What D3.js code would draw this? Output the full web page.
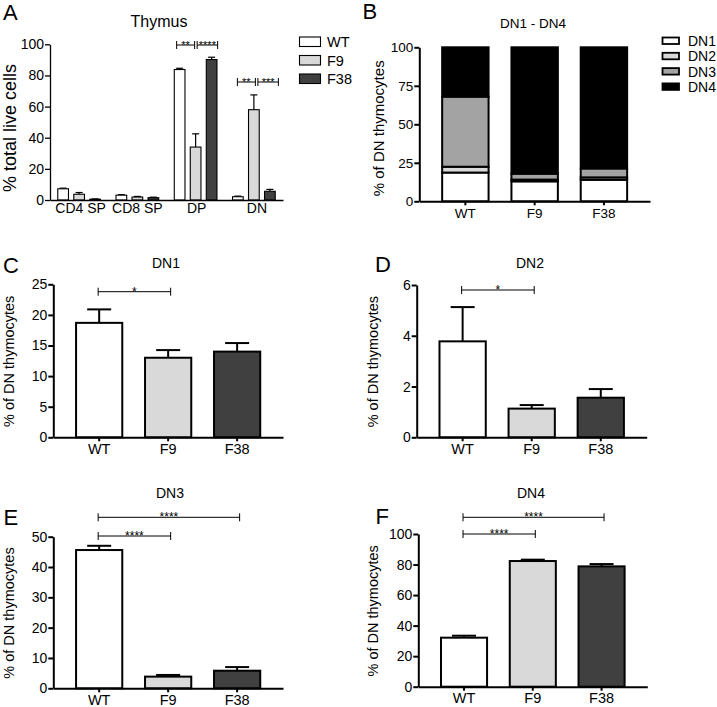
<!DOCTYPE html>
<html><head><meta charset="utf-8">
<script src="https://cdn.jsdelivr.net/npm/d3@7"></script>
<style>
body{margin:0;background:#fff}
text{font-family:"Liberation Sans",Arial,Helvetica,sans-serif;fill:#000}
</style>
</head><body>
<svg id="chart" width="717" height="707" xmlns="http://www.w3.org/2000/svg"></svg>
<script>
// ---------------- DATA ----------------
const genotypes = ["WT", "F9", "F38"];
const thymusGroups = ["CD4 SP", "CD8 SP", "DP", "DN"];
const thymusWT = [7.2, 3.1, 83.8, 2.1];
const thymusWTErr = [0.4, 0.3, 0.8, 0.4];
const thymusF9 = [3.7, 1.9, 34.0, 58.0];
const thymusF9Err = [1.1, 0.4, 8.5, 9.5];
const thymusF38 = [0.5, 1.5, 90.2, 5.6];
const thymusF38Err = [0.2, 0.3, 1.5, 1.2];
const thymusTicks = [0, 20, 40, 60, 80, 100];

const dnStages = ["DN1", "DN2", "DN3", "DN4"];
const dn1Mean = [18.7, 13.0, 14.0];
const dn1Err = [2.2, 1.25, 1.4];
const dn2Mean = [3.78, 1.13, 1.56];
const dn2Err = [1.35, 0.14, 0.34];
const dn3Mean = [45.6, 3.85, 5.8];
const dn3Err = [1.4, 0.55, 1.2];
const dn4Mean = [32.1, 82.3, 78.8];
const dn4Err = [1.3, 0.9, 1.5];

const stackTicks = [0, 25, 50, 75, 100];
const dn1Ticks = [0, 5, 10, 15, 20, 25];
const dn2Ticks = [0, 2, 4, 6];
const dn3Ticks = [0, 10, 20, 30, 40, 50];
const dn4Ticks = [0, 20, 40, 60, 80, 100];

// significance: [group, genotypeA, genotypeB, label]
const sigThymus = [["DP","WT","F9","**"],["DP","F9","F38","****"],["DN","WT","F9","**"],["DN","F9","F38","***"]];
const sigDN1 = [["WT","F9","*"]];
const sigDN2 = [["WT","F9","*"]];
const sigDN3 = [["WT","F9","****"],["WT","F38","****"]];
const sigDN4 = [["WT","F9","****"],["WT","F38","****"]];

// ---------------- STYLE ----------------
const genoFill = {WT:"#ffffff", F9:"#d9d9d9", F38:"#404040"};
const stageFill = {DN1:"#ffffff", DN2:"#d9d9d9", DN3:"#a3a3a3", DN4:"#000000"};
const fmt = d3.format("d");

const svg = d3.select("#chart");

function panelLetter(t, x, y){
  svg.append("text").attr("x",x).attr("y",y).attr("font-size",22).text(t);
}
function styleAxis(g, w){
  g.attr("font-family",null);
  g.selectAll("path.domain").attr("stroke","#000").attr("stroke-width",w);
  g.selectAll(".tick line").attr("stroke","#000").attr("stroke-width",w);
}
function bracket(x1, x2, y, label, fs){
  const g = svg.append("g").attr("stroke","#000").attr("stroke-width",1);
  g.append("line").attr("x1",x1).attr("x2",x2).attr("y1",y).attr("y2",y);
  g.append("line").attr("x1",x1).attr("x2",x1).attr("y1",y-4).attr("y2",y+4);
  g.append("line").attr("x1",x2).attr("x2",x2).attr("y1",y-4).attr("y2",y+4);
  svg.append("text").attr("x",(x1+x2)/2).attr("y",y+3.8).attr("text-anchor","middle")
    .attr("font-size",fs).attr("fill","#333").text(label);
}
function ylabel(text, x, y, fs){
  svg.append("text").attr("transform",`translate(${x},${y}) rotate(-90)`)
    .attr("text-anchor","middle").attr("font-size",fs).text(text);
}

// ---------------- PANEL A ----------------
(function(){
  const L=50, R=283, T=44.3, B=200;
  const x0 = d3.scaleBand().domain(thymusGroups).range([L,R]).padding(0);
  const x1 = d3.scaleBand().domain(genotypes).range([-24,24]).padding(0);
  const y = d3.scaleLinear().domain([0,100]).range([B,T]);
  const bw = 10.7;
  const series = {WT:[thymusWT,thymusWTErr], F9:[thymusF9,thymusF9Err], F38:[thymusF38,thymusF38Err]};
  const cx = (grp, gen) => x0(grp)+x0.bandwidth()/2 + x1(gen)+x1.bandwidth()/2;

  genotypes.forEach(gen=>{
    const [m,e] = series[gen];
    thymusGroups.forEach((grp,i)=>{
      const c = cx(grp,gen);
      svg.append("line").attr("x1",c).attr("x2",c).attr("y1",y(m[i])).attr("y2",y(m[i]+e[i]))
        .attr("stroke","#000").attr("stroke-width",1.2);
      svg.append("line").attr("x1",c-3.5).attr("x2",c+3.5).attr("y1",y(m[i]+e[i])).attr("y2",y(m[i]+e[i]))
        .attr("stroke","#000").attr("stroke-width",1.2);
      svg.append("rect").attr("x",c-bw/2).attr("y",y(m[i])).attr("width",bw).attr("height",B-y(m[i]))
        .attr("fill",genoFill[gen]).attr("stroke","#000").attr("stroke-width",1.1);
    });
  });

  const ga = svg.append("g").attr("transform",`translate(${L},0)`)
    .call(d3.axisLeft(y).tickValues(thymusTicks).tickFormat(fmt).tickSize(5).tickPadding(1).tickSizeOuter(0));
  ga.selectAll("text").attr("font-size",14);
  styleAxis(ga,1.3);
  const gb = svg.append("g").attr("transform",`translate(0,${B})`)
    .call(d3.axisBottom(x0).tickSize(0).tickPadding(3).tickSizeOuter(0));
  gb.selectAll("text").attr("font-size",14);
  const labShift = {"CD4 SP":1.5, "CD8 SP":0, "DP":1, "DN":3};
  gb.selectAll(".tick text").attr("dx", d => labShift[d]);
  styleAxis(gb,1.3);

  // brackets
  const lvl = {DP:45, DN:82};
  const shift = {DP:0, DN:2.5};
  sigThymus.forEach(([grp,a,b,lab])=>{
    let xa, xb;
    if(a==="WT"){ xa = cx(grp,a)-3; xb = cx(grp,b)-1; }
    else { xa = cx(grp,a)+1.5; xb = cx(grp,b)+6; }
    bracket(xa+shift[grp], xb+shift[grp], lvl[grp], lab, 11);
  });

  svg.append("text").attr("x",159).attr("y",27).attr("text-anchor","middle").attr("font-size",16).text("Thymus");
  ylabel("% total live cells", 15.5, 128, 18);

  // legend
  genotypes.forEach((gen,i)=>{
    const yy = 37 + i*18.5;
    svg.append("rect").attr("x",299.5).attr("y",yy).attr("width",21).attr("height",9.5)
      .attr("fill",genoFill[gen]).attr("stroke","#000").attr("stroke-width",1.1);
    svg.append("text").attr("x",327).attr("y",yy+10).attr("font-size",14.5).text(gen);
  });
  panelLetter("A",3,20);
})();

// ---------------- PANEL B ----------------
(function(){
  const L=419.3, R=650, T=47.3, B=201.3;
  const x = d3.scaleBand().domain(genotypes).range([L,R]).padding(0.33);
  const y = d3.scaleLinear().domain([0,1]).range([B,T]);
  const rows = genotypes.map((g,i)=>({geno:g, DN1:dn1Mean[i], DN2:dn2Mean[i], DN3:dn3Mean[i], DN4:dn4Mean[i]}));
  const stack = d3.stack().keys(dnStages).offset(d3.stackOffsetExpand)(rows);
  stack.forEach(layer=>{
    layer.forEach(d=>{
      svg.append("rect").attr("x",x(d.data.geno)).attr("y",y(d[1])).attr("width",x.bandwidth())
        .attr("height",y(d[0])-y(d[1])).attr("fill",stageFill[layer.key])
        .attr("stroke","#000").attr("stroke-width",2);
    });
  });
  const ga = svg.append("g").attr("transform",`translate(${L},0)`)
    .call(d3.axisLeft(y).tickValues(stackTicks.map(v=>v/100)).tickFormat(v=>Math.round(v*100)).tickSize(5).tickPadding(1).tickSizeOuter(0));
  ga.selectAll("text").attr("font-size",13.5);
  styleAxis(ga,2);
  const gb = svg.append("g").attr("transform",`translate(0,${B})`)
    .call(d3.axisBottom(x).tickSize(4).tickPadding(3).tickSizeOuter(0));
  gb.selectAll("text").attr("font-size",13.5);
  styleAxis(gb,2);

  svg.append("text").attr("x",533).attr("y",28).attr("text-anchor","middle").attr("font-size",13.5).text("DN1 - DN4");
  ylabel("% of DN thymocytes", 384, 128.3, 15);

  dnStages.forEach((s,i)=>{
    const yy = 37.5 + i*15.3;
    svg.append("rect").attr("x",662.5).attr("y",yy).attr("width",16.5).attr("height",6.5)
      .attr("fill",stageFill[s]).attr("stroke","#000").attr("stroke-width",1.8);
    svg.append("text").attr("x",688).attr("y",yy+8.5).attr("font-size",14).text(s);
  });
  panelLetter("B",362.5,19.3);
})();

// ---------------- PANELS C-F ----------------
function barPanel(o){
  const x = d3.scaleBand().domain(genotypes).range([o.L,o.R]).padding(0.33);
  const y = d3.scaleLinear().domain([0,o.max]).range([o.B,o.T]);
  const cx = g => x(g)+x.bandwidth()/2;
  genotypes.forEach((g,i)=>{
    const m=o.mean[i], e=o.err[i];
    svg.append("line").attr("x1",cx(g)).attr("x2",cx(g)).attr("y1",y(m)).attr("y2",y(m+e))
      .attr("stroke","#000").attr("stroke-width",2);
    svg.append("line").attr("x1",cx(g)-12).attr("x2",cx(g)+12).attr("y1",y(m+e)).attr("y2",y(m+e))
      .attr("stroke","#000").attr("stroke-width",2);
    svg.append("rect").attr("x",x(g)).attr("y",y(m)).attr("width",x.bandwidth()).attr("height",o.B-y(m))
      .attr("fill",genoFill[g]).attr("stroke","#000").attr("stroke-width",2);
  });
  const ga = svg.append("g").attr("transform",`translate(${o.L},0)`)
    .call(d3.axisLeft(y).tickValues(o.ticks).tickFormat(fmt).tickSize(5).tickPadding(1).tickSizeOuter(0));
  ga.selectAll("text").attr("font-size",14);
  styleAxis(ga,2);
  const gb = svg.append("g").attr("transform",`translate(0,${o.B})`)
    .call(d3.axisBottom(x).tickSize(4).tickPadding(2).tickSizeOuter(0));
  gb.selectAll("text").attr("font-size",14.5);
  styleAxis(gb,2);
  o.sig.forEach(([a,b,lab],k)=>{
    bracket(cx(a)-1, cx(b)+2.5, o.sigY[k], lab, 12);
  });
  svg.append("text").attr("x",o.titleX).attr("y",o.titleY).attr("text-anchor","middle").attr("font-size",14).text(o.title);
  ylabel("% of DN thymocytes", o.ylx, (o.T+o.B)/2 + 0.5, 14.5);
  panelLetter(o.letter, o.lx, o.ly);
}

barPanel({L:53.3,R:283,T:284.3,B:437.3,max:25,ticks:dn1Ticks,mean:dn1Mean,err:dn1Err,
  sig:sigDN1,sigY:[291.7],title:"DN1",titleX:166,titleY:267.7,ylx:13.5,letter:"C",lx:3,ly:273});
barPanel({L:416.7,R:646.7,T:285,B:437.3,max:6,ticks:dn2Ticks,mean:dn2Mean,err:dn2Err,
  sig:sigDN2,sigY:[290],title:"DN2",titleX:530,titleY:267.7,ylx:378,letter:"D",lx:375,ly:272.3});
barPanel({L:53.3,R:283,T:536.7,B:688.3,max:50,ticks:dn3Ticks,mean:dn3Mean,err:dn3Err,
  sig:sigDN3,sigY:[536,517.3],title:"DN3",titleX:170,titleY:498.3,ylx:13.5,letter:"E",lx:3.5,ly:525});
barPanel({L:418.3,R:647.3,T:534,B:686.7,max:100,ticks:dn4Ticks,mean:dn4Mean,err:dn4Err,
  sig:sigDN4,sigY:[534,517.3],title:"DN4",titleX:531,titleY:498.3,ylx:378,letter:"F",lx:375.5,ly:524});
</script>
</body></html>
